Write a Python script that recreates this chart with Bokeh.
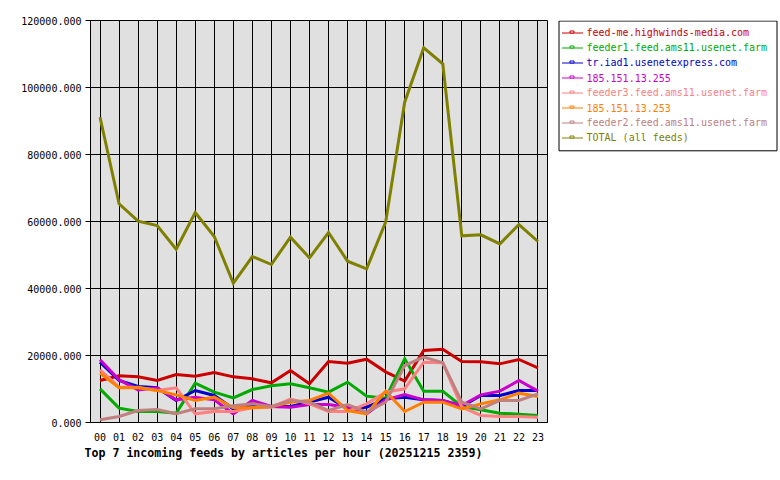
from bokeh.plotting import figure
from bokeh.layouts import row
from bokeh.models import (Range1d, FixedTicker, PrintfTickFormatter, ColumnDataSource, Title)
from bokeh.core.properties import value
from bokeh.embed import file_html
from bokeh.resources import INLINE

hours = list(range(24))
hour_labels = ["%02d" % h for h in hours]

feed_me = [12540, 13930, 13630, 12540, 14330, 13830, 14930, 13630, 13030, 11840, 15520, 11540,
           18210, 17710, 18900, 15120, 12340, 21490, 21890, 18210, 18110, 17510, 18810, 16320]
feeder1 = [10050, 4280, 3280, 3280, 2790, 11740, 9050, 7360, 9850, 10950, 11540, 10350,
           9050, 12040, 7860, 7260, 19000, 9350, 9350, 4780, 3780, 2790, 2490, 2090]
tr_iad1 = [18010, 12540, 10750, 10350, 6570, 9550, 8060, 4080, 4780, 4780, 4780, 6070,
           7560, 4080, 4580, 7060, 7560, 6770, 6570, 4780, 8060, 8060, 9550, 9550]
ip_255 = [18710, 12740, 9750, 10350, 6770, 7560, 6770, 2590, 6570, 4780, 4580, 5370,
          5370, 4580, 2590, 6770, 8360, 6770, 6570, 5070, 8260, 9350, 12540, 9350]
feeder3 = [15720, 10550, 10550, 9550, 10350, 2590, 3280, 3280, 4380, 4580, 6970, 5570,
           3280, 3280, 5570, 9050, 10050, 18010, 17810, 4580, 2090, 1790, 1790, 1590]
ip_253 = [14730, 10350, 10350, 9550, 8260, 6570, 7560, 4380, 4380, 4780, 6070, 6570,
          8760, 3580, 2590, 9350, 3280, 6070, 6070, 4080, 5570, 6770, 8760, 7760]
feeder2 = [800, 1790, 3580, 3880, 2590, 4080, 4080, 4980, 5570, 4780, 6570, 6070,
           3580, 5370, 3080, 6070, 17010, 19500, 17810, 6070, 4080, 6570, 6570, 8560]
total = [91130, 65280, 60100, 58800, 51730, 62690, 55520, 41580, 49550, 47160, 55320, 49160,
         56720, 48150, 45870, 59800, 95620, 111840, 107070, 55720, 56020, 53330, 59100, 54030]

series_names = ["feed-me.highwinds-media.com", "feeder1.feed.ams11.usenet.farm",
                "tr.iad1.usenetexpress.com", "185.151.13.255", "feeder3.feed.ams11.usenet.farm",
                "185.151.13.253", "feeder2.feed.ams11.usenet.farm", "TOTAL (all feeds)"]
series_values = [feed_me, feeder1, tr_iad1, ip_255, feeder3, ip_253, feeder2, total]
series_colors = ["#cc0000", "#00aa00", "#0000cc", "#cc00cc", "#ff8080", "#ff8000", "#c08080", "#808000"]

y_ticks = [0, 20000, 40000, 60000, 80000, 100000, 120000]
title_text = "Top 7 incoming feeds by articles per hour (20251215 2359)"

MONO = "DejaVu Sans Mono"

p = figure(width=557, height=480, output_backend="svg", toolbar_location=None,
           x_range=Range1d(-0.5, 23.5), y_range=Range1d(0, 120000),
           min_border_left=90, min_border_right=10, min_border_top=20, min_border_bottom=58)
p.background_fill_color = "#e0e0e0"
p.border_fill_color = "white"
p.outline_line_color = "black"
p.outline_line_width = 1

# axes
p.xaxis.ticker = FixedTicker(ticks=hours)
p.xaxis.major_label_overrides = {h: lab for h, lab in zip(hours, hour_labels)}
p.xaxis.major_tick_line_color = None
p.xaxis.minor_tick_line_color = None
p.xaxis.axis_line_color = "black"
p.xaxis.major_label_standoff = 4
p.yaxis.ticker = FixedTicker(ticks=y_ticks)
p.yaxis.formatter = PrintfTickFormatter(format="%.3f")
p.yaxis.major_tick_out = 5
p.yaxis.major_tick_in = 0
p.yaxis.minor_tick_line_color = None
p.yaxis.major_label_standoff = 4
for ax in (p.xaxis, p.yaxis):
    ax.major_label_text_font = MONO
    ax.major_label_text_font_size = "10px"
    ax.major_label_text_color = "black"

p.xgrid.ticker = FixedTicker(ticks=hours)
p.ygrid.ticker = FixedTicker(ticks=y_ticks)
for g in (p.xgrid, p.ygrid):
    g.grid_line_color = "black"
    g.grid_line_width = 1
    g.grid_line_alpha = 1

for name, vals, col in zip(series_names, series_values, series_colors):
    src = ColumnDataSource(dict(x=hours, y=vals))
    p.line("x", "y", source=src, line_color=col, line_width=3, line_join="miter")

title = Title(text=title_text, align="left", offset=-6, text_font=MONO,
              text_font_size="11.6px", text_font_style="bold", text_color="black",
              standoff=0)
p.add_layout(title, "below")

# ---- legend panel: a pixel-mapped figure (data units == page pixels) ----
LP_LEFT, LP_W = 557, 223
lp = figure(width=LP_W, height=480, output_backend="svg", toolbar_location=None,
            x_range=Range1d(LP_LEFT, LP_LEFT + LP_W), y_range=Range1d(422, 20),
            x_axis_location=None, y_axis_location=None,
            min_border_left=0, min_border_right=0, min_border_top=20, min_border_bottom=58)
lp.outline_line_color = None
lp.grid.visible = False
lp.background_fill_color = "white"
lp.border_fill_color = "white"

box_left, box_right, box_top = 558.5, 776.5, 20.5
row_h = 15.1
pad = 4.0
n = len(series_names)
box_bottom = box_top + 2 * pad + row_h * n + 1
lp.quad(left=[box_left], right=[box_right], top=[box_top], bottom=[box_bottom],
        fill_color="white", line_color="black", line_width=1)

row_y = [round(box_top + pad + row_h * (i + 0.5) - 0.4) + 0.5 for i in range(n)]
leg = ColumnDataSource(dict(
    x0=[561.5] * n, x1=[582.5] * n, xm=[571.5] * n, xt=[586] * n,
    y=row_y, my=[y - 1 for y in row_y], ty=[y - 0.5 for y in row_y],
    name=series_names, color=series_colors))
lp.segment("x0", "y", "x1", "y", source=leg, line_color="color", line_width=1)
lp.rect("xm", "my", width=4, height=2, source=leg, line_color="color",
        fill_color="white", line_width=1)
lp.text("xt", "ty", text="name", source=leg, text_color="color", text_font=value(MONO),
        text_font_size=value("10px"), text_baseline="middle", text_align="left")

layout = row(p, lp, spacing=0)
open("out.html", "w").write(file_html(layout, INLINE))
